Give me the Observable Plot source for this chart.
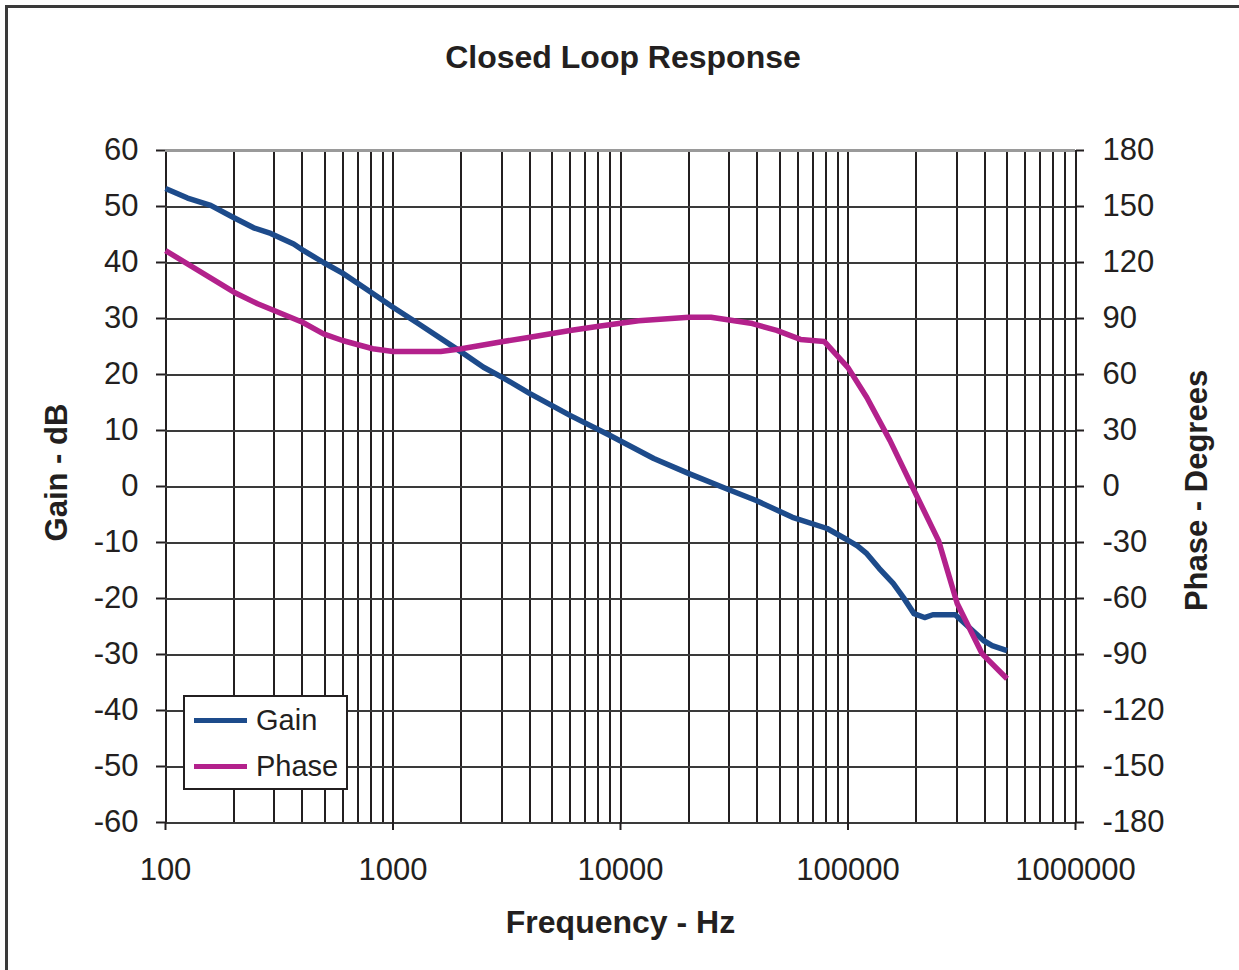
<!DOCTYPE html>
<html>
<head>
<meta charset="utf-8">
<script src="https://cdn.jsdelivr.net/npm/d3@7"></script>
<script src="https://cdn.jsdelivr.net/npm/@observablehq/plot@0.6"></script>
<style>
  body { margin: 0; background: #fff; font-family: "Liberation Sans", Arial, sans-serif; color: #231f20; }
  #fig { position: relative; width: 1239px; height: 970px; overflow: hidden; }
  #frame { position: absolute; left: 5px; top: 5px; right: -10px; bottom: -10px; border-top: 3px solid #3a3a3a; border-left: 3px solid #3a3a3a; pointer-events: none; }
  #title { height: 100px; line-height: 114px; text-align: center; font-weight: bold; font-size: 32px; padding-left: 7px; box-sizing: border-box; }
  #legend { position: absolute; left: 183px; top: 695px; width: 161px; height: 91px; border: 2px solid #231f20; background: #fff; }
  .item { position: absolute; left: 9px; height: 34px; display: flex; align-items: center; font-size: 29px; }
  .sw { width: 53px; height: 5px; margin-right: 9px; }
</style>
</head>
<body>
<div id="fig">
  <div id="title">Closed Loop Response</div>
  <div id="chart"></div>
  <div id="legend"></div>
  <div id="frame"></div>
</div>
<script>
// ---- data ----
const gainFreq = [100, 125, 158, 200, 244, 290, 366, 405, 495, 600, 800, 1000, 1280, 2000, 2500, 3050, 4000, 6000, 9000, 14000, 20000, 29600, 39500, 57000, 81000, 100000, 110000, 121000, 137000, 158000, 175000, 195000, 217000, 236000, 296000, 394000, 430000, 500000];
const gainDb   = [53.2, 51.5, 50.2, 48.0, 46.2, 45.2, 43.3, 42.1, 40.0, 38.1, 34.7, 32.0, 29.2, 24.0, 21.3, 19.4, 16.6, 12.7, 9.1, 5.0, 2.3, -0.5, -2.5, -5.5, -7.5, -9.6, -10.6, -12.0, -14.6, -17.3, -19.8, -22.7, -23.4, -22.9, -22.9, -27.5, -28.4, -29.3];

const phaseFreq = [100, 200, 254, 300, 400, 495, 600, 815, 1000, 1620, 2000, 3050, 4000, 6000, 8170, 12000, 20000, 25000, 38000, 48600, 61800, 78600, 100000, 121000, 153000, 195000, 250000, 302000, 388000, 500000];
const phaseDeg  = [126.4, 104.1, 97.9, 94.3, 88.0, 81.8, 78.2, 73.8, 72.3, 72.3, 73.8, 77.7, 80.0, 83.6, 86.0, 88.8, 90.7, 90.7, 87.3, 83.6, 78.8, 77.7, 63.7, 47.7, 24.6, -2.0, -29.0, -62.7, -89.5, -103.0];

const xTickLabels = [100, 1000, 10000, 100000, 1000000];
const gainTicks = [-60, -50, -40, -30, -20, -10, 0, 10, 20, 30, 40, 50, 60];
const phaseTicks = [-180, -150, -120, -90, -60, -30, 0, 30, 60, 90, 120, 150, 180];
const seriesNames = ["Gain", "Phase"];
const seriesColors = ["#1d4b8b", "#b3218c"];

// phase is drawn on the gain scale: 180 deg <-> 60 dB
const PHASE_SCALE = 3;

const gainData = gainFreq.map((f, i) => ({f, v: gainDb[i]}));
const phaseData = phaseFreq.map((f, i) => ({f, v: phaseDeg[i] / PHASE_SCALE}));
const minorTicks = d3.scaleLog().domain([100, 1000000]).ticks();

const ink = "#231f20";

const chart = Plot.plot({
  width: 1239,
  height: 870,
  marginTop: 50,
  marginBottom: 148,
  marginLeft: 165,
  marginRight: 164,
  style: { fontFamily: "Liberation Sans, Arial, sans-serif", fontSize: "31px", color: ink, background: "transparent", overflow: "visible" },
  x: { type: "log", domain: [100, 1000000] },
  y: { domain: [-60, 60] },
  marks: [
    Plot.ruleX(minorTicks, { stroke: ink, strokeWidth: 2, shapeRendering: "crispEdges" }),
    Plot.ruleY(gainTicks, { stroke: d => d === 60 ? "#9a9a9a" : "#3a3a3a", strokeWidth: d => d === 60 ? 3 : 2, shapeRendering: "crispEdges" }),
    Plot.axisX({ ticks: xTickLabels, tickFormat: d => String(d), tickSize: 8, tickPadding: 27, strokeWidth: 2, stroke: ink, label: null }),
    Plot.axisY({ anchor: "left", ticks: gainTicks, tickFormat: d => String(d), tickSize: 9, tickPadding: 18, strokeWidth: 2, stroke: ink, label: null }),
    Plot.axisY({ anchor: "right", ticks: phaseTicks.map(p => p / PHASE_SCALE), tickFormat: d => String(Math.round(d * PHASE_SCALE)), tickSize: 8, tickPadding: 19, strokeWidth: 2, stroke: ink, label: null }),
    Plot.line(gainData, { x: "f", y: "v", stroke: seriesColors[0], strokeWidth: 5.5, strokeLinejoin: "round", strokeLinecap: "butt" }),
    Plot.line(phaseData, { x: "f", y: "v", stroke: seriesColors[1], strokeWidth: 5.5, strokeLinejoin: "round", strokeLinecap: "butt" }),
    Plot.text(["Gain - dB"], { frameAnchor: "left", textAnchor: "middle", dx: -108, dy: -14, rotate: -90, fontWeight: "bold", fontSize: 31, fill: ink }),
    Plot.text(["Phase - Degrees"], { frameAnchor: "right", textAnchor: "middle", dx: 122, dy: 4, rotate: -90, fontWeight: "bold", fontSize: 31, fill: ink }),
    Plot.text(["Frequency - Hz"], { frameAnchor: "bottom", dy: 110, fontWeight: "bold", fontSize: 32, fill: ink })
  ]
});
document.getElementById("chart").appendChild(chart);

// legend
const legend = document.getElementById("legend");
seriesNames.forEach((name, i) => {
  const item = document.createElement("div");
  item.className = "item";
  item.style.top = (6 + i * 46) + "px";
  const sw = document.createElement("div");
  sw.className = "sw";
  sw.style.background = seriesColors[i];
  const label = document.createElement("span");
  label.textContent = name;
  item.appendChild(sw);
  item.appendChild(label);
  legend.appendChild(item);
});
</script>
</body>
</html>
